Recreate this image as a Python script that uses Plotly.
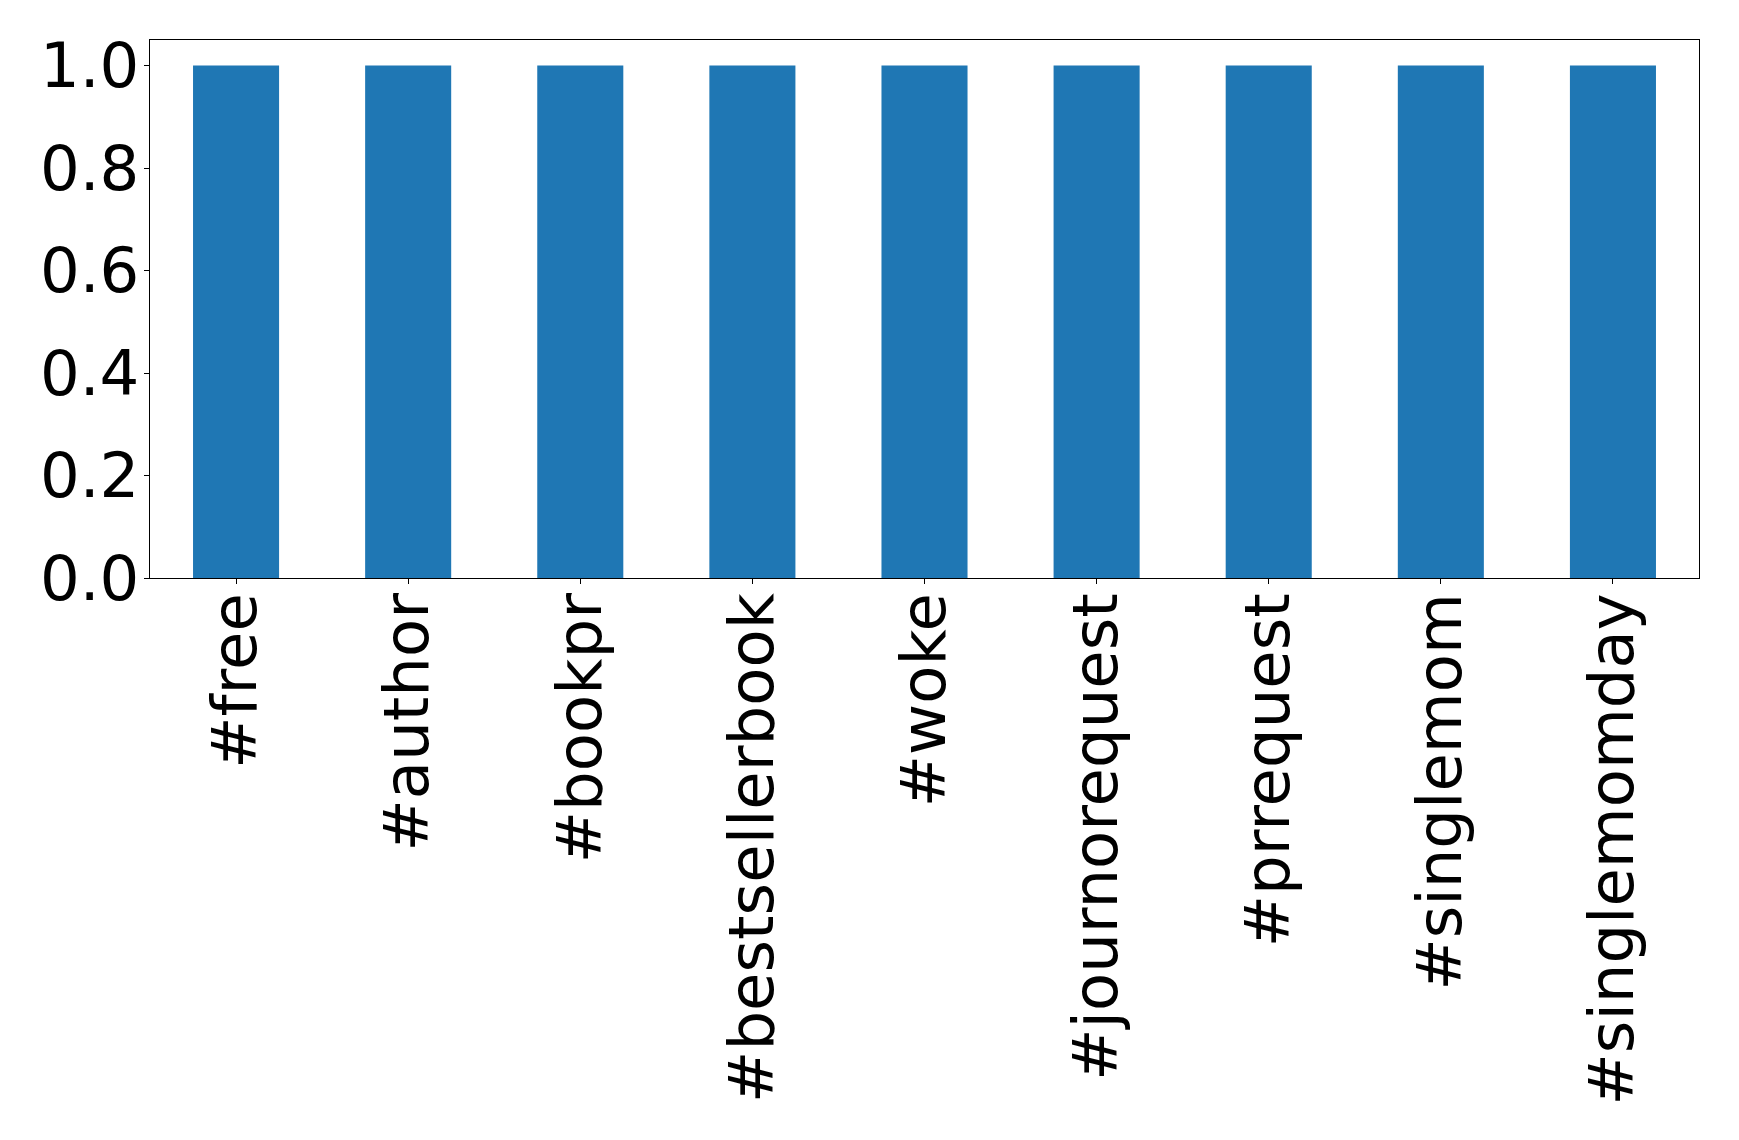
import plotly.graph_objects as go

categories = ["#free", "#author", "#bookpr", "#bestsellerbook", "#woke",
              "#journorequest", "#prrequest", "#singlemom", "#singlemomday"]
values = [1, 1, 1, 1, 1, 1, 1, 1, 1]
y_ticks = [0.0, 0.2, 0.4, 0.6, 0.8, 1.0]
y_tick_labels = ["0.0", "0.2", "0.4", "0.6", "0.8", "1.0"]

fig = go.Figure(go.Bar(x=categories, y=values, width=0.5,
                       marker=dict(color="#1f77b4", line=dict(width=0))))

fig.update_layout(
    width=1739, height=1140,
    margin=dict(l=141.5, r=48, t=31.5, b=570, pad=0),
    paper_bgcolor="white", plot_bgcolor="white",
    font=dict(family="DejaVu Sans", size=62, color="black"),
    showlegend=False,
)
fig.update_xaxes(
    range=[-0.5, len(categories) - 0.5], tickangle=-90,
    showline=True, linecolor="black", linewidth=1.3, mirror=True,
    ticks="outside", ticklen=5, tickwidth=1.3, tickcolor="black",
    showgrid=False, zeroline=False, ticklabelstandoff=-16,
    tickfont=dict(family="DejaVu Sans", size=62.5, color="black"),
)
fig.update_yaxes(
    range=[0, 1.05], tickvals=y_ticks, ticktext=y_tick_labels,
    showline=True, linecolor="black", linewidth=1.3, mirror=True,
    ticks="outside", ticklen=5, tickwidth=1.3, tickcolor="black",
    showgrid=False, zeroline=False, ticklabelstandoff=-8,
    tickfont=dict(family="DejaVu Sans", size=62.5, color="black"),
)

fig.write_html("out.html")
